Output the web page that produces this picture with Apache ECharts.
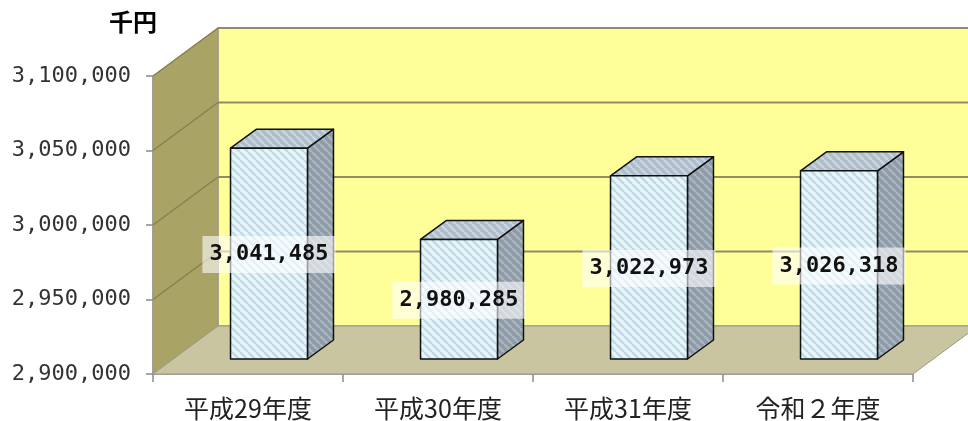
<!DOCTYPE html>
<html>
<head>
<meta charset="utf-8">
<script src="https://cdn.jsdelivr.net/npm/echarts@6/dist/echarts.min.js"></script>
<style>
  html, body { margin: 0; padding: 0; background: #fff; }
  #chart { width: 968px; height: 421px; }
</style>
</head>
<body>
<div id="chart"></div>
<script>
// データ
const categories = ['平成29年度', '平成30年度', '平成31年度', '令和２年度'];
const values = [3041485, 2980285, 3022973, 3026318];
const yTicks = [2900000, 2950000, 3000000, 3050000, 3100000];
const unitLabel = '千円';

// 奥行き（壁・床）
const DEPTH = { dx: 65, dy: -48 };
// 棒の前面位置と奥行き
const BAR_FRONT = { dx: 21, dy: -15 };
const BAR_DEPTH = { dx: 26, dy: -19 };

// 斜線パターン
function stripes(bg, fg) {
  const c = document.createElement('canvas');
  c.width = 8; c.height = 8;
  const g = c.getContext('2d');
  g.fillStyle = bg;
  g.fillRect(0, 0, 8, 8);
  g.strokeStyle = fg;
  g.lineWidth = 2.5;
  g.beginPath();
  for (let k = -8; k <= 8; k += 8) {
    g.moveTo(k, 0);
    g.lineTo(k + 8, 8);
  }
  g.stroke();
  return { image: c, repeat: 'repeat' };
}
const frontFill = stripes('#eaf5fa', '#bcdbe9');
const topFill = stripes('#aebdca', '#cad5de');
const sideFill = stripes('#8d9ba7', '#a9b5bf');

const fmt = v => v.toLocaleString('en-US');

const chart = echarts.init(document.getElementById('chart'));

// 背景の壁と床
function renderWalls(params, api) {
  const cs = params.coordSys;
  const x = cs.x, y = cs.y, w = cs.width, h = cs.height;
  const dx = DEPTH.dx, dy = DEPTH.dy;
  const children = [];
  // 奥の壁
  children.push({
    type: 'polygon',
    shape: { points: [[x + dx, y + dy], [x + w + dx, y + dy], [x + w + dx, y + h + dy], [x + dx, y + h + dy]] },
    style: { fill: '#ffff9a', stroke: '#9a9a8a', lineWidth: 1.5 }
  });
  // 左の壁
  children.push({
    type: 'polygon',
    shape: { points: [[x, y], [x + dx, y + dy], [x + dx, y + h + dy], [x, y + h]] },
    style: { fill: '#a9a465', stroke: '#9a9a8a', lineWidth: 1 }
  });
  // 床
  children.push({
    type: 'polygon',
    shape: { points: [[x, y + h], [x + dx, y + h + dy], [x + w + dx, y + h + dy], [x + w, y + h]] },
    style: { fill: '#c9c5a0', stroke: '#9a9a8a', lineWidth: 1 }
  });
  // 目盛線
  yTicks.forEach(function (v, i) {
    if (i === 0) return;
    const yy = api.coord([0, v])[1];
    children.push({
      type: 'line',
      shape: { x1: x + dx, y1: yy + dy, x2: x + w + dx, y2: yy + dy },
      style: { stroke: '#8f8c66', lineWidth: 2 }
    });
    children.push({
      type: 'line',
      shape: { x1: x, y1: yy, x2: x + dx, y2: yy + dy },
      style: { stroke: '#86814e', lineWidth: 1.5 }
    });
  });
  return { type: 'group', children: children };
}

// 立体の棒
function renderBar(params, api) {
  const i = api.value(0);
  const v = api.value(1);
  const top = api.coord([i, v]);
  const base = api.coord([i, yTicks[0]]);
  const band = api.size([1, 0])[0];
  const bw = band * 0.405;
  const x0 = top[0] + BAR_FRONT.dx - bw / 2;
  const x1 = x0 + bw;
  const yT = top[1] + BAR_FRONT.dy;
  const yB = base[1] + BAR_FRONT.dy;
  const ddx = BAR_DEPTH.dx, ddy = BAR_DEPTH.dy;
  const edge = { stroke: '#111', lineWidth: 1.5, lineJoin: 'round' };
  return {
    type: 'group',
    children: [
      {
        type: 'polygon',
        shape: { points: [[x1, yT], [x1 + ddx, yT + ddy], [x1 + ddx, yB + ddy], [x1, yB]] },
        style: Object.assign({ fill: sideFill }, edge)
      },
      {
        type: 'polygon',
        shape: { points: [[x0, yT], [x0 + ddx, yT + ddy], [x1 + ddx, yT + ddy], [x1, yT]] },
        style: Object.assign({ fill: topFill }, edge)
      },
      {
        type: 'polygon',
        shape: { points: [[x0, yT], [x1, yT], [x1, yB], [x0, yB]] },
        style: Object.assign({ fill: frontFill }, edge)
      },
      {
        type: 'text',
        z2: 10,
        style: {
          text: fmt(v),
          x: (x0 + x1) / 2,
          y: (yT + yB) / 2 + 1,
          align: 'center',
          verticalAlign: 'middle',
          font: 'bold 22px "DejaVu Sans Mono", monospace',
          fill: '#111',
          backgroundColor: 'rgba(255,255,255,0.6)',
          padding: [8, 7, 7, 7]
        }
      }
    ]
  };
}

const option = {
  animation: false,
  backgroundColor: '#fff',
  graphic: [{
    type: 'text',
    left: 109,
    top: 10,
    style: {
      text: unitLabel,
      font: 'bold 24px "Noto Sans CJK JP", sans-serif',
      fill: '#000'
    }
  }],
  grid: { left: 153, right: 55, top: 76, bottom: 47 },
  xAxis: {
    type: 'category',
    data: categories,
    axisLine: { show: true, lineStyle: { color: '#8a8a8a', width: 1.5 } },
    axisTick: { show: true, length: 8, lineStyle: { color: '#8a8a8a', width: 1.5 } },
    axisLabel: {
      margin: 22,
      fontFamily: '"Noto Sans CJK JP", sans-serif',
      fontSize: 25,
      color: '#222'
    },
    splitLine: { show: false }
  },
  yAxis: {
    type: 'value',
    min: yTicks[0],
    max: yTicks[yTicks.length - 1],
    interval: yTicks[1] - yTicks[0],
    axisLine: { show: true, lineStyle: { color: '#8a8a8a', width: 1.5 } },
    axisTick: { show: true, length: 7, lineStyle: { color: '#8a8a8a', width: 1.5 } },
    axisLabel: {
      margin: 22,
      formatter: fmt,
      fontFamily: '"DejaVu Sans Mono", monospace',
      fontSize: 22,
      color: '#333'
    },
    splitLine: { show: false }
  },
  series: [
    {
      type: 'custom',
      z: 1,
      silent: true,
      renderItem: renderWalls,
      data: [[0, yTicks[0]]]
    },
    {
      type: 'custom',
      z: 3,
      renderItem: renderBar,
      data: values.map((v, i) => [i, v])
    }
  ]
};

chart.setOption(option);
</script>
</body>
</html>
